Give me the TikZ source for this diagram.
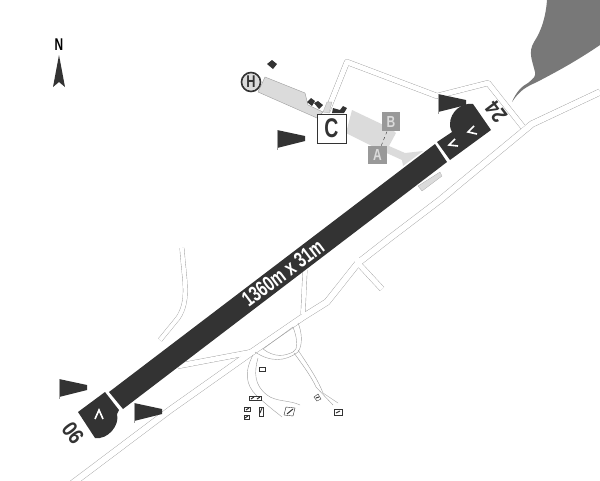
\documentclass[tikz,border=0pt]{standalone}
\usepackage{fontspec}
\setmainfont{Liberation Sans}
\usepackage{color}
\definecolor{runway}{rgb}{0.2, 0.2, 0.2}
\definecolor{apron}{rgb}{0.86, 0.86, 0.86}
\definecolor{roadline}{rgb}{0.62, 0.62, 0.62}
\definecolor{lake}{rgb}{0.47, 0.47, 0.47}
\definecolor{taxibox}{rgb}{0.6, 0.6, 0.6}
\newcommand{\narrowtext}[2]{\scalebox{#1}[1]{#2}}
\tikzset{
	mapbox/.style={draw=runway, line width=0.7pt, fill=white, minimum size=29pt, inner sep=0pt, font=\bfseries\fontsize{27}{27}\selectfont, text=runway},
	taxisign/.style={fill=taxibox, minimum size=18.5pt, inner sep=0pt, font=\bfseries\fontsize{16}{16}\selectfont, text=apron},
	hut/.style={draw=runway, line width=0.4pt, fill=white}
}
\newcommand{\roadnet}[2]{
	\draw[color=#1, line width=#2+6pt, line join=round] (69,486) -- (170,410) -- (252,352) -- (303,317) -- (327,302) -- (358,263) -- (390,238) -- (440,200) -- (532,124) -- (600,92);
	\draw[color=#1, line width=#2+5pt, line join=round] (327,112) -- (347,62) -- (437,96) -- (488,83) -- (523,127);
	\draw[color=#1, line width=#2+4pt, line join=round] (182,248) .. controls (184,280) and (190,300) .. (178,318) -- (160,340);
	\draw[color=#1, line width=#2+4pt] (305,270) -- (303,314);
	\draw[color=#1, line width=#2+4pt] (357,232) -- (357,262);
	\draw[color=#1, line width=#2+5pt] (357,262) -- (382,289);
	\draw[color=#1, line width=#2+5pt] (178,366) -- (252,352);
}
\newcommand{\windflag}[1]{
	\fill[color=runway] #1 -- ++(28,6) -- ++(0,5) -- ++(-28,7) -- cycle;
	\draw[color=roadline, very thin] #1 -- ++(0,20);
}
\begin{document}
\begin{tikzpicture}[x=1pt, y=-1pt]
	\useasboundingbox (0,0) rectangle (600,480);
	\fill[color=lake] (512,102) .. controls (516,92) and (522,86) .. (528,83) .. controls (534,78) and (536,76) .. (535,72) .. controls (532,60) and (528,52) .. (534,42) .. controls (542,30) and (546,15) .. (547,0) -- (600,0) -- (600,45) .. controls (575,62) and (556,72) .. (537,82) .. controls (526,87) and (520,90) .. (512,102) -- cycle;
	\roadnet{roadline}{0.8pt}
	\roadnet{white}{0pt}
	\draw[color=roadline, line width=0.4pt] (253,355) .. controls (244,372) and (246,385) .. (256,395) .. controls (270,408) and (276,412) .. (282,417);
	\draw[color=roadline, line width=0.4pt] (258,358) .. controls (254,372) and (254,385) .. (267,395) .. controls (276,402) and (290,400) .. (300,405);
	\draw[color=roadline, line width=0.4pt] (263,349) -- (293,327) .. controls (298,340) and (298,350) .. (293,352) .. controls (285,356) and (275,358) .. (263,349) -- cycle;
	\draw[color=roadline, line width=0.4pt] (255,352) .. controls (270,362) and (285,362) .. (298,352) .. controls (303,345) and (302,332) .. (298,323);
	\draw[color=roadline, line width=0.4pt] (294,353) .. controls (305,368) and (312,378) .. (316,387) -- (333,405);
	\draw[color=roadline, line width=0.4pt] (298,350) .. controls (310,368) and (318,380) .. (323,393) -- (338,403);
	\filldraw[fill=apron, draw=roadline, thin] (265,77) -- (258,92) -- (317,118) -- (323,112) -- (308,105) -- (305,93) -- cycle;
	\filldraw[fill=apron, draw=roadline, very thin] (323,112) -- (327,102) -- (332,102) -- (329,113) -- cycle;
	\fill[color=apron] (352,110) -- (392,129) -- (396,133) -- (389,146) -- (405,153) -- (423,151) -- (403,166) -- (402,160) -- (380,150) -- (346,133) -- cycle;
	\filldraw[fill=apron, draw=roadline, very thin] (418,186) -- (440,172) -- (442,176) -- (422,191) -- cycle;
	\fill[color=runway] (109,392) -- (435,144) -- (447,162) -- (123,409) -- cycle;
	\fill[color=runway] (437,142) -- (450,160) -- (491,130) -- (473,104) .. controls (462,102) and (450,112) .. (450,124) .. controls (450,128) and (451,130) .. (452,132) -- cycle;
	\fill[color=runway] (105,392) -- (78,412) -- (95,438) .. controls (108,440) and (120,425) .. (117,414) -- (119,410) -- cycle;
	\draw[color=white, line width=1.6pt] (477,134) -- (468,132) -- (474,126);
	\draw[color=white, line width=1.6pt] (458,146) -- (449,145) -- (455,139);
	\draw[color=white, line width=1.6pt] (95,419) -- (99,410) -- (103,419);
	\fill[color=runway] (307,102) -- (311,98) -- (315,101) -- (312,106) -- cycle;
	\fill[color=runway] (314,103) -- (318,101) -- (323,105) -- (319,109) -- cycle;
	\fill[color=runway] (332,113) -- (333,108) -- (340,110) -- (343,106) -- (347,108) -- (344,113) -- cycle;
	\fill[color=runway] (267,64) -- (272,60) -- (277,64) -- (273,69) -- cycle;
	\windflag{(277,130)}
	\windflag{(438,94)}
	\windflag{(59,379)}
	\windflag{(134,403)}
	\node[mapbox] (towerC) at (331.5,128.5) {\narrowtext{0.72}{C}};
	\node[taxisign] (signB) at (391,121.5) {\narrowtext{0.75}{B}};
	\node[taxisign] (signA) at (377.5,155) {\narrowtext{0.75}{A}};
	\draw[color=runway, thin, dashed] (signA) -- (signB);
	\node[circle, draw=runway, line width=1.6pt, fill=apron, minimum size=19pt, inner sep=0pt, font=\bfseries\fontsize{17}{17}\selectfont, text=runway] (heliH) at (251,82) {\narrowtext{0.75}{H}};
	\node[rotate=37, text=white, font=\bfseries\fontsize{21.5}{21.5}\selectfont] (lengthlabel) at (283,273) {\narrowtext{0.72}{1360m x 31m}};
	\node[rotate=-53, text=runway, font=\bfseries\fontsize{22}{22}\selectfont] (endA) at (73,433) {\narrowtext{0.85}{06}};
	\node[rotate=127, text=runway, font=\bfseries\fontsize{22}{22}\selectfont] (endB) at (496,112) {\narrowtext{0.85}{24}};
	\node[text=black, font=\bfseries\fontsize{17}{17}\selectfont] (northN) at (59,45) {\narrowtext{0.7}{N}};
	\fill[color=runway] (59,55) -- (65,87) -- (59,82) -- (53,87) -- cycle;
	\filldraw[hut] (259,367) rectangle (265,371);
	\filldraw[hut] (249,396) rectangle (261,400);
	\filldraw[hut] (244,407) rectangle (250,411);
	\filldraw[hut] (244,415) rectangle (249,419);
	\filldraw[hut] (259,407) rectangle (263,416);
	\filldraw[hut] (286,407) -- (295,408) -- (293,416) -- (284,415) -- cycle;
	\filldraw[hut] (314,397) -- (318,394) -- (321,399) -- (317,401) -- cycle;
	\filldraw[hut] (334,409) rectangle (342,415);
	\draw[color=runway, line width=1pt] (251,399) -- (254,397) (257,399) -- (260,397);
	\draw[color=runway, line width=1pt] (246,410) -- (249,408);
	\draw[color=runway, line width=1pt] (245,418) -- (248,416);
	\draw[color=runway, line width=1pt] (260,413) -- (262,408);
	\draw[color=runway, line width=1pt] (287,414) -- (293,409);
	\draw[color=runway, line width=1pt] (316,398) -- (319,397);
	\draw[color=runway, line width=1pt] (336,413) -- (340,411);
\end{tikzpicture}
\end{document}
